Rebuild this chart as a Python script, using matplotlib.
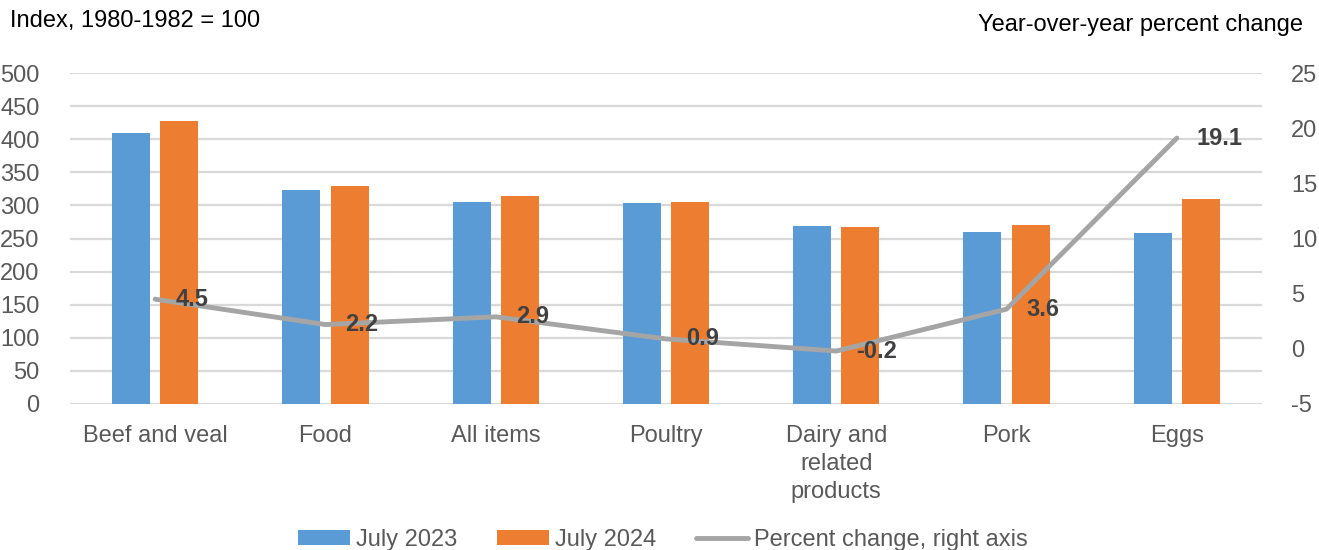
import numpy as np
import matplotlib.pyplot as plt

plt.rcParams['font.family'] = ['Liberation Sans', 'DejaVu Sans']
plt.rcParams['axes.unicode_minus'] = False

# Data
categories = ['Beef and veal', 'Food', 'All items', 'Poultry',
              'Dairy and\nrelated\nproducts', 'Pork', 'Eggs']
july_2023 = [410, 323, 305, 303, 269, 260, 259]
july_2024 = [428, 330, 314, 305, 268, 270, 309]
pct_change = [4.5, 2.2, 2.9, 0.9, -0.2, 3.6, 19.1]

blue = '#5b9bd5'
orange = '#ed7d31'
gray = '#a5a5a5'
tick_color = '#595959'
grid_color = '#d9d9d9'
fs = 17

fig = plt.figure(figsize=(13.19, 5.5), dpi=100)
ax = fig.add_axes([70 / 1319, 1 - 404 / 550, (1262 - 70) / 1319, (404 - 73) / 550])

x = np.arange(len(categories))
ax.bar(x - 0.142, july_2023, 0.223, color=blue, label='July 2023', zorder=2)
ax.bar(x + 0.142, july_2024, 0.223, color=orange, label='July 2024', zorder=2)

ax.set_xlim(-0.5, len(categories) - 0.5)
ax.set_ylim(0, 500)
ax.set_yticks(np.arange(0, 501, 50))
ax.set_xticks(x)
ax.set_xticklabels(categories, linespacing=1.35)
ax.grid(axis='y', color=grid_color, lw=1.6, zorder=0)
ax.tick_params(axis='y', length=0, pad=22, labelsize=fs, labelcolor=tick_color)
ax.tick_params(axis='x', length=0, pad=15, labelsize=fs, labelcolor=tick_color)
for s in ax.spines.values():
    s.set_visible(False)

# Percent change on the right axis
ax2 = ax.twinx()
line, = ax2.plot(x, pct_change, color=gray, lw=3.5, solid_capstyle='round',
                 label='Percent change, right axis', zorder=3)
ax2.set_ylim(-5, 25)
ax2.set_yticks(np.arange(-5, 26, 5))
ax2.tick_params(axis='y', length=0, pad=21, labelsize=fs, labelcolor=tick_color)
for s in ax2.spines.values():
    s.set_visible(False)

for xi, v in zip(x, pct_change):
    ax2.annotate(f'{v:.1f}', (xi, v), xytext=(20, 0), textcoords='offset pixels',
                 ha='left', va='center', fontsize=fs, fontweight='bold', color='#404040')

fig.text(10 / 1319, 1 - 21 / 550, 'Index, 1980-1982 = 100', fontsize=fs,
         ha='left', va='center', color='black')
fig.text(1303 / 1319, 1 - 25 / 550, 'Year-over-year percent change', fontsize=fs,
         ha='right', va='center', color='black')

h1, l1 = ax.get_legend_handles_labels()
fig.legend(h1 + [line], l1 + [line.get_label()], loc='center',
           bbox_to_anchor=(663 / 1319, 1 - 540 / 550), ncol=3, frameon=False,
           fontsize=fs, labelcolor=tick_color, handlelength=2.2, handleheight=0.6,
           handletextpad=0.25, columnspacing=1.7, borderaxespad=0)

fig.savefig('out.png', dpi=100)
